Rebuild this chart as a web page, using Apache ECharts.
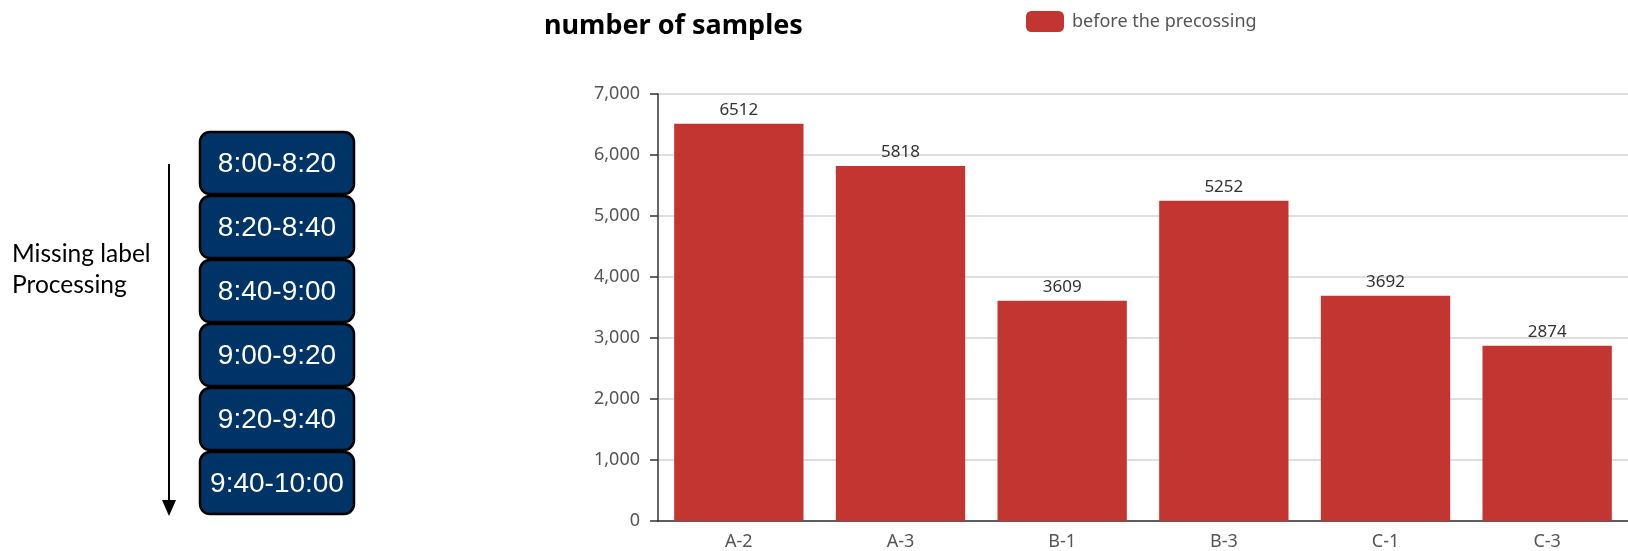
<!DOCTYPE html>
<html>
<head>
<meta charset="utf-8">
<title>number of samples</title>
<script src="https://cdn.jsdelivr.net/npm/echarts@6/dist/echarts.min.js"></script>
<style>
  html, body { margin: 0; padding: 0; background: #ffffff; }
  #chart { width: 1628px; height: 551px; }
</style>
</head>
<body>
<div id="chart"></div>
<script>
// Sample counts per site, before preprocessing
const categories = ['A-2', 'A-3', 'B-1', 'B-3', 'C-1', 'C-3'];
const sampleCounts = [6512, 5818, 3609, 5252, 3692, 2874];
const seriesName = 'before the precossing';

// Time windows handled in order by the missing-label step
const timeSlots = ['8:00-8:20', '8:20-8:40', '8:40-9:00', '9:00-9:20', '9:20-9:40', '9:40-10:00'];
const stepCaption = ['Missing label', 'Processing'];

// Layout of the time-window column on the left
const slotBox = { x: 200, y: 132, w: 154, h: 62, pitch: 64, r: 10 };
const arrowX = 169;

const chartFont = '"Noto Sans", "DejaVu Sans", sans-serif';

function buildSlotGraphics() {
  const items = [];
  timeSlots.forEach(function (label, i) {
    items.push({
      type: 'rect',
      shape: { x: slotBox.x, y: slotBox.y + i * slotBox.pitch, width: slotBox.w, height: slotBox.h, r: slotBox.r },
      style: { fill: '#003366', stroke: '#000000', lineWidth: 2.5 }
    });
    items.push({
      type: 'text',
      x: slotBox.x + slotBox.w / 2,
      y: slotBox.y + i * slotBox.pitch + slotBox.h / 2 + 1,
      style: {
        text: label, fill: '#ffffff',
        font: '28px "Liberation Sans", Arial, sans-serif',
        align: 'center', verticalAlign: 'middle'
      }
    });
  });
  const top = slotBox.y + 32;
  const bottom = slotBox.y + (timeSlots.length - 1) * slotBox.pitch + slotBox.h + 2;
  items.push({
    type: 'line',
    shape: { x1: arrowX, y1: top, x2: arrowX, y2: bottom - 14 },
    style: { stroke: '#000000', lineWidth: 2 }
  });
  items.push({
    type: 'polygon',
    shape: { points: [[arrowX - 7, bottom - 16], [arrowX + 7, bottom - 16], [arrowX, bottom]] },
    style: { fill: '#000000' }
  });
  stepCaption.forEach(function (line, i) {
    items.push({
      type: 'text',
      x: 12,
      y: 254 + i * 31,
      style: {
        text: line, fill: '#000000',
        font: '24.5px Lato, "Open Sans", sans-serif',
        align: 'left', verticalAlign: 'middle'
      }
    });
  });
  return items;
}

const chart = echarts.init(document.getElementById('chart'), null, { renderer: 'canvas' });

chart.setOption({
  animation: false,
  backgroundColor: '#ffffff',
  title: {
    text: 'number of samples',
    left: 539,
    top: 8,
    textStyle: {
      fontFamily: chartFont,
      fontWeight: 'bold',
      fontSize: 27,
      color: '#000000'
    }
  },
  legend: {
    left: 1021,
    top: 6,
    itemWidth: 38,
    itemHeight: 21,
    icon: 'roundRect',
    data: [seriesName],
    textStyle: {
      fontFamily: chartFont,
      fontSize: 18,
      color: '#555555',
      padding: [0, 0, 0, 3]
    }
  },
  grid: {
    left: 658,
    top: 94,
    width: 972,
    height: 427,
    containLabel: false
  },
  xAxis: {
    type: 'category',
    data: categories,
    axisLine: { lineStyle: { color: '#333333', width: 1.5 } },
    axisTick: { length: 7, lineStyle: { color: '#333333', width: 1.5 } },
    axisLabel: {
      margin: 12,
      fontFamily: chartFont,
      fontSize: 18,
      color: '#555555'
    }
  },
  yAxis: {
    type: 'value',
    min: 0,
    max: 7000,
    interval: 1000,
    axisLine: { show: true, lineStyle: { color: '#333333', width: 1.5 } },
    axisTick: { show: true, length: 8, lineStyle: { color: '#333333', width: 1.5 } },
    axisLabel: {
      margin: 18,
      fontFamily: chartFont,
      fontSize: 18,
      color: '#555555',
      formatter: function (v) { return v.toLocaleString('en-US'); }
    },
    splitLine: { lineStyle: { color: '#d4d4d4', width: 1.5 } }
  },
  series: [{
    name: seriesName,
    type: 'bar',
    data: sampleCounts,
    barCategoryGap: '20%',
    itemStyle: { color: '#c23531' },
    label: {
      show: true,
      position: 'top',
      distance: 5,
      fontFamily: chartFont,
      fontSize: 17,
      color: '#333333'
    }
  }],
  graphic: buildSlotGraphics()
});
</script>
</body>
</html>
